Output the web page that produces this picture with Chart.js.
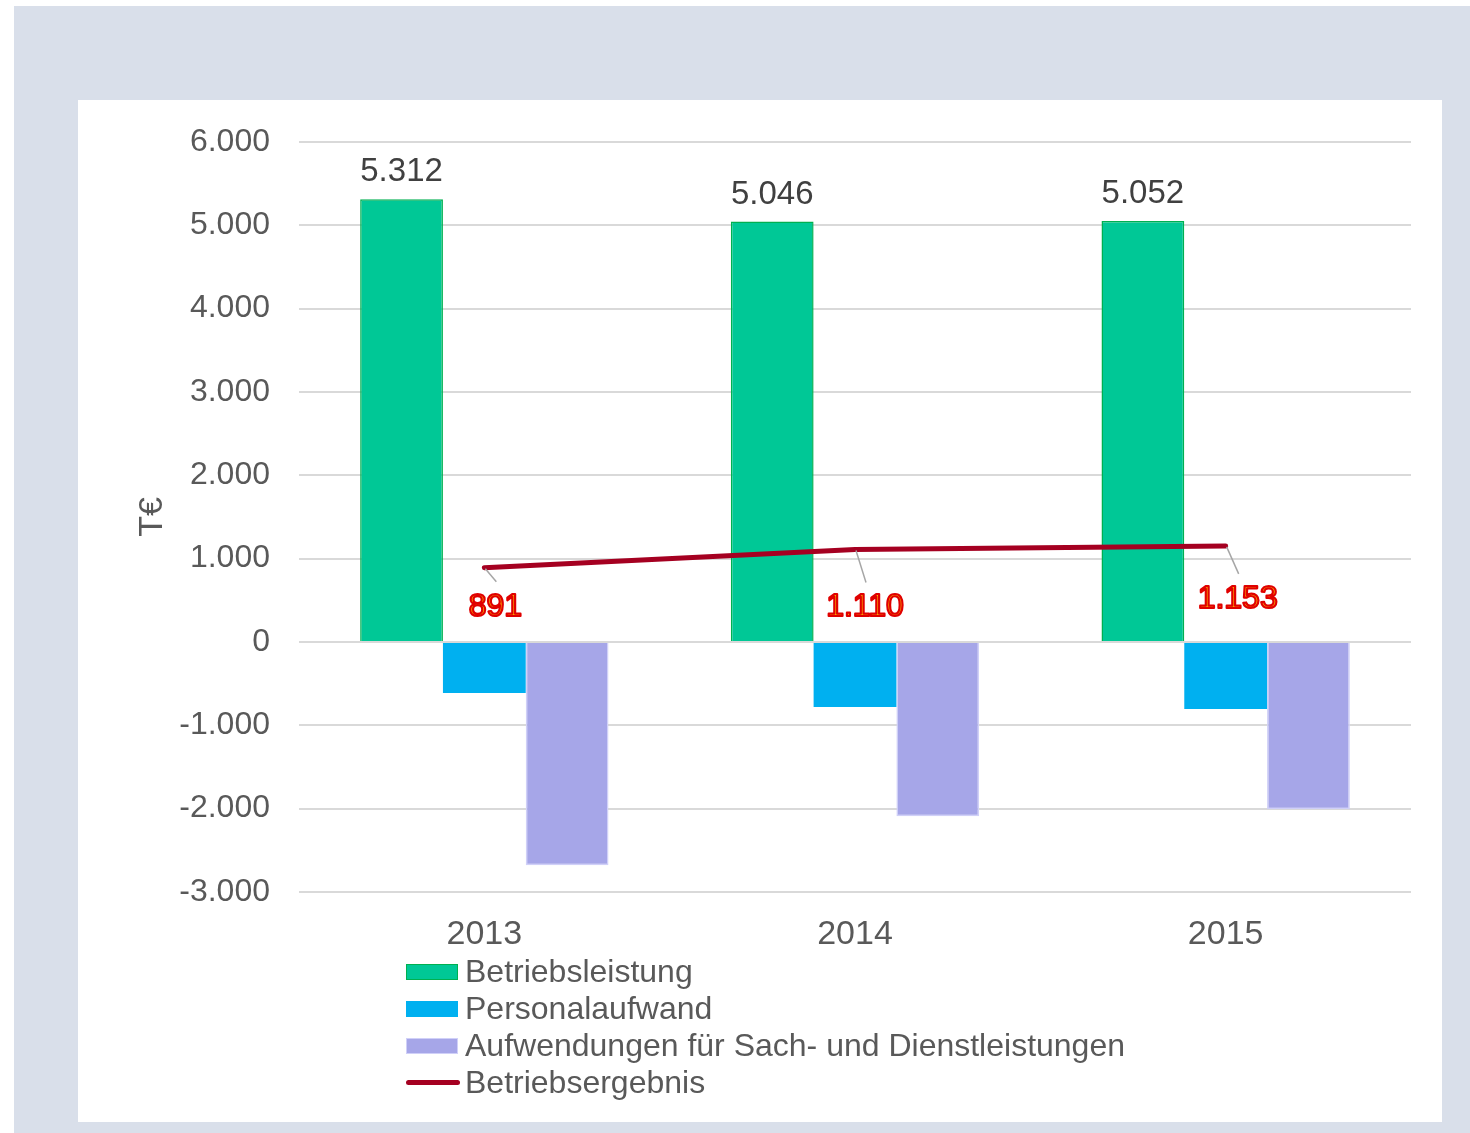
<!DOCTYPE html>
<html lang="de">
<head>
<meta charset="UTF-8"/>
<title>Betriebsleistung und Betriebsergebnis</title>
<script src="https://cdn.jsdelivr.net/npm/chart.js@4.4.1/dist/chart.umd.min.js"></script>
<style>
  body{margin:0;padding:0;background:#fff;font-family:'Liberation Sans',Arial,sans-serif;}
  .outer{position:absolute;left:14px;top:6px;width:1456px;height:1127px;background:#d9dfea;}
  .panel{position:absolute;left:64px;top:94px;width:1364px;height:1022px;background:#fff;}
  canvas{position:absolute;left:0;top:0;}
  .legend{position:absolute;left:328px;top:853px;color:#595959;font-size:32px;line-height:37px;}
  .legend div{display:flex;align-items:center;height:37px;}
  .legend span.sw{display:inline-block;width:50px;height:14px;margin-right:7px;border:1px solid transparent;}
  .legend span.ln{display:inline-block;width:54px;height:5px;border-radius:3px;margin-right:5px;}
</style>
</head>
<body>
<div class="outer">
  <div class="panel">
    <canvas id="chart" width="1364" height="1022"></canvas>
    <div class="legend" id="legend"></div>
  </div>
</div>
<script>
// data
const years = ['2013', '2014', '2015'];
const betriebsleistung = [5312, 5046, 5052];
const personalaufwand = [-613, -781, -805];
const sachaufwand = [-2680, -2091, -2007];
const betriebsergebnis = [891, 1110, 1153];
const yTicks = [6000, 5000, 4000, 3000, 2000, 1000, 0, -1000, -2000, -3000];

// label offsets for the result line (dx, dy of text centre from point)
const resultLabelOffset = [[11, 39], [10, 58], [12, 53]];

const FONT = "'Liberation Sans', Arial, sans-serif";
const fmt = v => {
  const s = Math.abs(v).toString().replace(/\B(?=(\d{3})+(?!\d))/g, '.');
  return (v < 0 ? '-' : '') + s;
};

const barLabels = {
  id: 'barLabels',
  afterDatasetsDraw(chart) {
    const ctx = chart.ctx;
    ctx.save();
    // values above green bars
    const meta = chart.getDatasetMeta(1);
    ctx.font = '33px ' + FONT;
    ctx.fillStyle = '#404040';
    ctx.textAlign = 'center';
    ctx.textBaseline = 'alphabetic';
    meta.data.forEach((bar, i) => {
      ctx.fillText(fmt(betriebsleistung[i]), bar.x, bar.y - 18);
    });
    // result line labels with leader lines
    const lm = chart.getDatasetMeta(0);
    lm.data.forEach((pt, i) => {
      const [dx, dy] = resultLabelOffset[i];
      const tx = pt.x + dx, ty = pt.y + dy;
      ctx.strokeStyle = '#a6a6a6';
      ctx.lineWidth = 1.5;
      ctx.beginPath();
      ctx.moveTo(pt.x + 1, pt.y + 1);
      ctx.lineTo(tx + 1, ty - 25);
      ctx.stroke();
      ctx.font = '32px ' + FONT;
      ctx.textBaseline = 'middle';
      ctx.lineJoin = 'round';
      ctx.fillStyle = '#ffb000';
      ctx.fillText(fmt(betriebsergebnis[i]), tx, ty);
      ctx.lineWidth = 2.2;
      ctx.strokeStyle = '#e00000';
      ctx.strokeText(fmt(betriebsergebnis[i]), tx, ty);
    });
    ctx.restore();
  }
};

const chart = new Chart(document.getElementById('chart'), {
  data: {
    labels: years,
    datasets: [
      {type: 'line', label: 'Betriebsergebnis', data: betriebsergebnis, borderColor: '#a50021',
       borderWidth: 5, borderCapStyle: 'round', pointRadius: 0, tension: 0, order: 0},
      {type: 'bar', label: 'Betriebsleistung', data: betriebsleistung, backgroundColor: '#00c896',
       borderColor: '#00b050', borderWidth: 1.5, order: 1},
      {type: 'bar', label: 'Personalaufwand', data: personalaufwand, backgroundColor: '#00b0f0',
       borderColor: '#00b0f0', borderWidth: 0, order: 1},
      {type: 'bar', label: 'Aufwendungen für Sach- und Dienstleistungen', data: sachaufwand,
       backgroundColor: '#a6a6e8', borderColor: '#d0d0f8', borderWidth: 1.5, order: 1}
    ]
  },
  options: {
    responsive: false,
    animation: false,
    layout: {padding: {left: 0, right: 31, top: 42, bottom: 176}},
    datasets: {bar: {barPercentage: 1, categoryPercentage: 0.67}},
    plugins: {legend: {display: false}, tooltip: {enabled: false}},
    scales: {
      x: {
        grid: {display: false, drawTicks: false},
        border: {display: false},
        ticks: {color: '#595959', font: {family: FONT, size: 34}, padding: 22},
        afterFit: s => { s.height = 54; s.paddingLeft = 0; s.paddingRight = 0; }
      },
      y: {
        min: -3000, max: 6000,
        afterBuildTicks: s => { s.ticks = yTicks.map(v => ({value: v})); },
        grid: {color: '#d9d9d9', lineWidth: 2, drawTicks: false},
        border: {display: false},
        ticks: {color: '#595959', font: {family: FONT, size: 32}, padding: 29, callback: v => fmt(v)},
        title: {display: true, text: 'T€', color: '#595959', font: {family: FONT, size: 34}, padding: {top: 54, bottom: 0}},
        afterFit: s => { s.width = 221; s.paddingTop = 0; s.paddingBottom = 0; }
      }
    }
  },
  plugins: [barLabels]
});

// legend built from the chart's datasets
const legendEl = document.getElementById('legend');
[1, 2, 3, 0].forEach(i => {
  const ds = chart.data.datasets[i];
  const row = document.createElement('div');
  const sw = document.createElement('span');
  if (ds.type === 'line') {
    sw.className = 'ln';
    sw.style.background = ds.borderColor;
  } else {
    sw.className = 'sw';
    sw.style.background = ds.backgroundColor;
    sw.style.borderColor = ds.borderWidth ? ds.borderColor : ds.backgroundColor;
  }
  row.appendChild(sw);
  row.appendChild(document.createTextNode(ds.label));
  legendEl.appendChild(row);
});
</script>
</body>
</html>
